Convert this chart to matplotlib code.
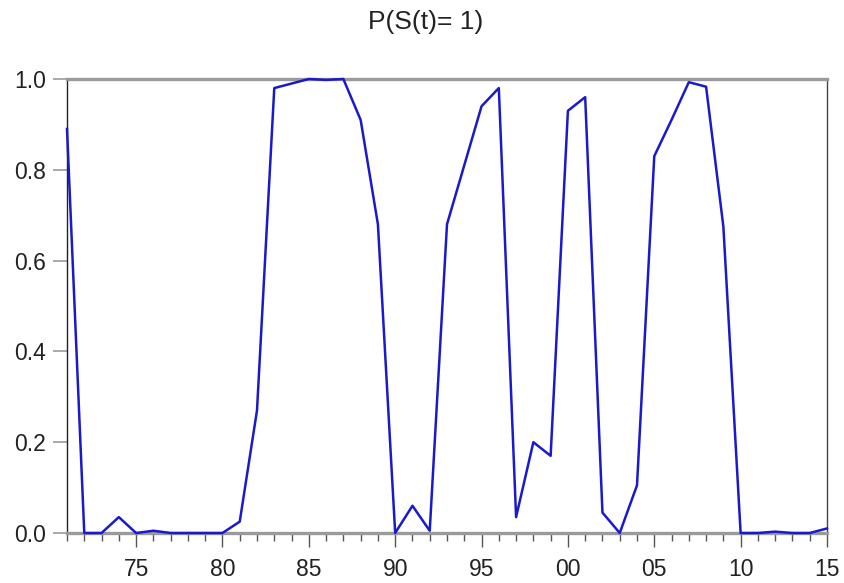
import matplotlib
matplotlib.use("Agg")
import matplotlib.pyplot as plt
from matplotlib.ticker import FixedLocator, MultipleLocator

plt.rcParams["font.family"] = ["Liberation Sans", "DejaVu Sans"]

# smoothed regime probability, annual 1971-2015
years = list(range(1971, 2016))
prob = [
    0.89, 0.00, 0.00, 0.035, 0.00, 0.005, 0.00, 0.00, 0.00, 0.00,   # 1971-1980
    0.025, 0.27, 0.98, 0.99, 1.00, 0.998, 1.00, 0.91, 0.68, 0.00,   # 1981-1990
    0.06, 0.005, 0.68, 0.81, 0.94, 0.98, 0.035, 0.20, 0.17, 0.93,   # 1991-2000
    0.96, 0.045, 0.00, 0.105, 0.83, 0.91, 0.993, 0.983, 0.675, 0.00,  # 2001-2010
    0.00, 0.003, 0.00, 0.00, 0.01,                                  # 2011-2015
]
tick_years = [1975, 1980, 1985, 1990, 1995, 2000, 2005, 2010, 2015]
tick_labels = ["75", "80", "85", "90", "95", "00", "05", "10", "15"]
y_ticks = [0.0, 0.2, 0.4, 0.6, 0.8, 1.0]

fig = plt.figure(figsize=(8.44, 5.83), dpi=100)
ax = fig.add_axes([67 / 844, 1 - 533 / 583, 760 / 844, 454 / 583])

ax.plot(years, prob, color="#1a1acc", lw=1.8, clip_on=False, zorder=3)

ax.set_xlim(1971, 2015)
ax.set_ylim(0, 1.0)

# EViews-like frame: grey rules at 0 and 1, dark sides
for side in ("top", "bottom"):
    ax.spines[side].set_color("#9a9a9a")
    ax.spines[side].set_linewidth(2.4)
ax.spines["left"].set_color("#222222")
ax.spines["left"].set_linewidth(1.0)
ax.spines["right"].set_color("#444444")
ax.spines["right"].set_linewidth(1.0)

ax.xaxis.set_major_locator(FixedLocator(tick_years))
ax.set_xticklabels(tick_labels)
ax.xaxis.set_minor_locator(MultipleLocator(1))
ax.set_yticks(y_ticks)
ax.set_yticklabels([f"{v:.1f}" for v in y_ticks])

ax.tick_params(axis="x", which="major", direction="out", length=10, width=1.0,
               color="#555555", labelsize=16.5, pad=8, labelcolor="#222222")
ax.tick_params(axis="x", which="minor", direction="out", length=6, width=1.0,
               color="#555555")
ax.tick_params(axis="y", direction="out", length=10, width=1.2,
               color="#999999", labelsize=16.5, pad=5, labelcolor="#222222")

fig.text(0.5 + 4 / 844, 1 - 22 / 583, "P(S(t)= 1)", ha="center", va="center",
         fontsize=19, color="#222222")

fig.savefig("out.png", dpi=100)
